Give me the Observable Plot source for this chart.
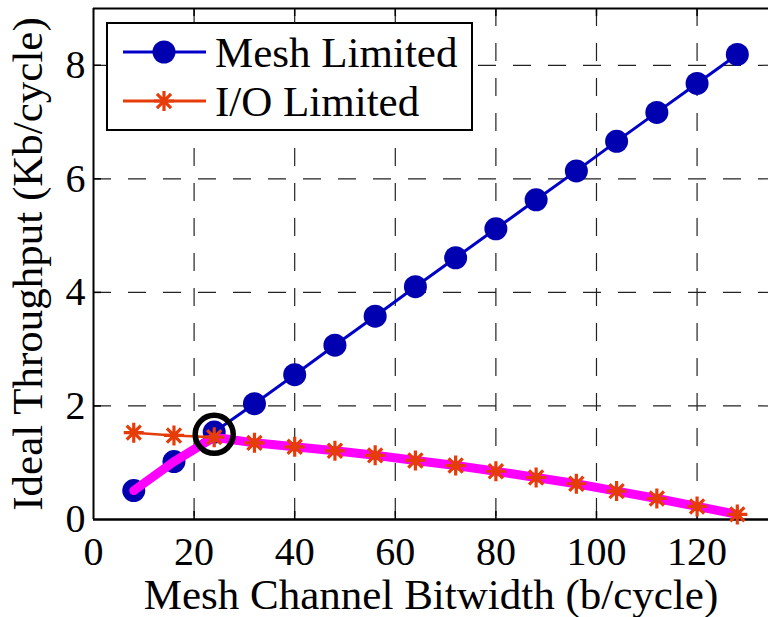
<!DOCTYPE html>
<html>
<head>
<meta charset="utf-8">
<script src="https://cdn.jsdelivr.net/npm/d3@7"></script>
<script src="https://cdn.jsdelivr.net/npm/@observablehq/plot@0.6"></script>
<style>
  html, body { margin: 0; padding: 0; background: #fff; }
  #wrap { position: relative; width: 770px; height: 617px; }
  #legend { position: absolute; left: 0; top: 0; }
</style>
</head>
<body>
<div id="wrap"></div>
<script>
// ---- data ----
const bitwidth = [8, 16, 24, 32, 40, 48, 56, 64, 72, 80, 88, 96, 104, 112, 120, 128];
const meshLimited = [0.51, 1.02, 1.54, 2.04, 2.55, 3.07, 3.58, 4.10, 4.61, 5.12, 5.63, 6.14, 6.66, 7.17, 7.68, 8.19];
const ioLimited = [1.53, 1.48, 1.45, 1.35, 1.28, 1.21, 1.13, 1.04, 0.95, 0.85, 0.74, 0.63, 0.50, 0.37, 0.23, 0.09];
const optimumX = [24];
const optimumY = [1.5];
const xTicks = [0, 20, 40, 60, 80, 100, 120];
const yTicks = [0, 2, 4, 6, 8];
const seriesNames = ["Mesh Limited", "I/O Limited"];

const meshData = bitwidth.map((x, i) => ({x, y: meshLimited[i]}));
const ioData = bitwidth.map((x, i) => ({x, y: ioLimited[i]}));
const minData = bitwidth.map((x, i) => ({x, y: Math.min(meshLimited[i], ioLimited[i])}));
const optData = optimumX.map((x, i) => ({x, y: optimumY[i]}));

const W = 770, H = 617;
const mL = 93, mR = 2, mT = 8, mB = 98;
const frameW = W - mL - mR, frameH = H - mT - mB;
const tickLen = 8;
const FONT = "'Liberation Serif', 'Times New Roman', serif";
const FS = 43;      // titles and legend
const TFS = 40;     // tick labels

const blueLine = "#0000c8", blueDot = "#0000b0", red = "#e63c0a", magenta = "#ff00ff";

// 8-armed asterisk like MATLAB '*'
const star8 = {
  draw(ctx, size) {
    const r = Math.sqrt(size / Math.PI);
    const d = r * Math.SQRT1_2;
    ctx.moveTo(-r, 0); ctx.lineTo(r, 0);
    ctx.moveTo(0, -r); ctx.lineTo(0, r);
    ctx.moveTo(-d, -d); ctx.lineTo(d, d);
    ctx.moveTo(-d, d); ctx.lineTo(d, -d);
  }
};

const chart = Plot.plot({
  width: W, height: H,
  marginLeft: mL, marginRight: mR, marginTop: mT, marginBottom: mB,
  style: {fontFamily: FONT, fontSize: FS + "px", color: "black", background: "white"},
  x: {domain: [0, 134.2]},
  y: {domain: [0, 9]},
  marks: [
    Plot.gridX(xTicks.slice(1), {stroke: "#222", strokeOpacity: 1, strokeWidth: 1.2, strokeDasharray: "18,17"}),
    Plot.gridY(yTicks.slice(1), {stroke: "#222", strokeOpacity: 1, strokeWidth: 1.2, strokeDasharray: "18,17"}),
    // inward ticks
    Plot.tickX(xTicks.slice(1), {x: d => d, insetTop: frameH - tickLen, stroke: "black", strokeWidth: 1.5}),
    Plot.tickX(xTicks.slice(1), {x: d => d, insetBottom: frameH - tickLen, stroke: "black", strokeWidth: 1.5}),
    Plot.tickY(yTicks.slice(1), {y: d => d, insetRight: frameW - tickLen, stroke: "black", strokeWidth: 1.5}),
    // tick labels
    Plot.axisX(xTicks, {tickSize: 0, tickPadding: 17, fontSize: TFS, tickFormat: d => String(d), label: null}),
    Plot.axisY(yTicks, {tickSize: 0, tickPadding: 8, fontSize: TFS, tickFormat: d => String(d), label: null}),
    // axis titles
    Plot.axisX(xTicks, {tickSize: 0, tickFormat: () => "", fontSize: FS, label: "Mesh Channel Bitwidth (b/cycle)", labelAnchor: "center", labelArrow: "none", labelOffset: 89}),
    Plot.axisY(yTicks, {tickSize: 0, tickFormat: () => "", fontSize: FS, label: "Ideal Throughput (Kb/cycle)", labelAnchor: "center", labelArrow: "none", labelOffset: 82}),
    // frame
    Plot.ruleX([0], {stroke: "black", strokeWidth: 2}),
    Plot.ruleY([0], {stroke: "black", strokeWidth: 2.5}),
    Plot.ruleY([9], {stroke: "black", strokeWidth: 2}),
    // Mesh limited
    Plot.line(meshData, {x: "x", y: "y", stroke: blueLine, strokeWidth: 3}),
    Plot.dot(meshData, {x: "x", y: "y", r: 11.5, fill: blueDot, stroke: "none"}),
    // I/O limited line (under envelope)
    Plot.line(ioData, {x: "x", y: "y", stroke: red, strokeWidth: 2.5}),
    // min envelope
    Plot.line(minData, {x: "x", y: "y", stroke: magenta, strokeWidth: 9}),
    // I/O limited markers
    Plot.dot(ioData, {x: "x", y: "y", symbol: star8, r: 10, fill: "none", stroke: red, strokeWidth: 3.2}),
    // optimum
    Plot.dot(optData, {x: "x", y: "y", r: 19, fill: "none", stroke: "black", strokeWidth: 5.5})
  ]
});

const wrap = document.getElementById("wrap");
wrap.appendChild(chart);

// legend overlay
const leg = d3.select(wrap).append("svg")
  .attr("id", "legend").attr("width", W).attr("height", H)
  .style("font-family", FONT);
leg.append("rect").attr("x", 107).attr("y", 23).attr("width", 365).attr("height", 107)
  .attr("fill", "white").attr("stroke", "black").attr("stroke-width", 2);
const rows = [
  {name: seriesNames[0], y: 52, color: blueLine, kind: "dot"},
  {name: seriesNames[1], y: 101, color: red, kind: "star"}
];
for (const r of rows) {
  leg.append("line").attr("x1", 123).attr("x2", 206).attr("y1", r.y).attr("y2", r.y)
    .attr("stroke", r.color).attr("stroke-width", 3);
  if (r.kind === "dot") {
    leg.append("circle").attr("cx", 164).attr("cy", r.y).attr("r", 11.5).attr("fill", blueDot);
  } else {
    const p = d3.path(); star8.draw(p, Math.PI * 100);
    leg.append("path").attr("d", p.toString()).attr("transform", `translate(164,${r.y})`)
      .attr("fill", "none").attr("stroke", red).attr("stroke-width", 3.2);
  }
  leg.append("text").attr("x", 215).attr("y", r.y).attr("dy", "0.34em")
    .attr("font-size", FS).attr("fill", "black").text(r.name);
}
</script>
</body>
</html>
